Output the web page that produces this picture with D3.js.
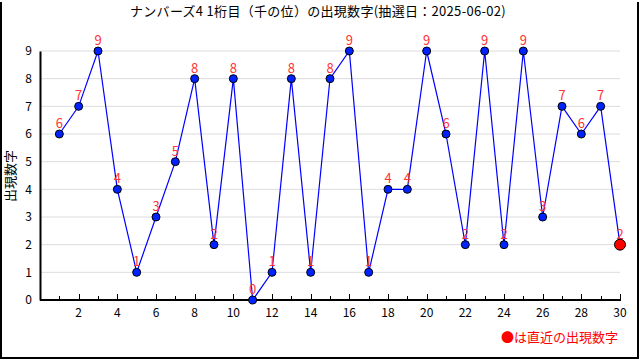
<!DOCTYPE html>
<html>
<head>
<meta charset="utf-8">
<script src="https://cdn.jsdelivr.net/npm/d3@7"></script>
<style>
  body { margin: 0; background: #fff; }
  svg { display: block; }
</style>
</head>
<body>
<div id="chart"></div>
<script>
// draw numbers per draw index (1..30)
const drawIndex = d3.range(1, 31)
const digits = [6, 7, 9, 4, 1, 3, 5, 8, 2, 8, 0, 1, 8, 1, 8, 9, 1, 4, 4, 9, 6, 2, 9, 2, 9, 3, 7, 6, 7, 2]
const yTicks = [0, 1, 2, 3, 4, 5, 6, 7, 8, 9]
const xLabelTicks = [2, 4, 6, 8, 10, 12, 14, 16, 18, 20, 22, 24, 26, 28, 30]
const titleText = "ナンバーズ4 1桁目（千の位）の出現数字(抽選日：2025-06-02)"
const yTitle = "出現数字"
const legendText = "●は直近の出現数字"

const width = 640, height = 360
const fontFam = "'Noto Sans CJK JP', 'DejaVu Sans', sans-serif"
const colors = {
  line: '#0000ff',
  point: '#0022ff',
  label: '#ff3333',
  latest: '#ff0000',
  grid: '#dcdcdc'
}

const svg = d3.select("#chart").append("svg")
  .attr("width", width)
  .attr("height", height)

// outer frame (left, right, bottom)
svg.append("path")
  .attr("d", "M1,2 V358 H638 V2")
  .attr("fill", "none")
  .attr("stroke", "#000")
  .attr("stroke-width", 2)

const x = d3.scaleLinear().domain([0, 30]).range([40, 620])
const y = d3.scaleLinear().domain([0, 9]).range([300, 51])

// grid lines
svg.append("g").selectAll("line")
  .data(yTicks.filter(d => d > 0))
  .join("line")
  .attr("x1", x(0)).attr("x2", x(30))
  .attr("y1", d => y(d)).attr("y2", d => y(d))
  .attr("stroke", colors.grid)
  .attr("stroke-width", 1)

// y axis
const yAxis = d3.axisLeft(y).tickValues(yTicks).tickSize(0).tickPadding(8)
const gy = svg.append("g").attr("transform", "translate(" + x(0) + ",0)").call(yAxis)
gy.select(".domain").attr("stroke", "#000").attr("stroke-width", 2)
gy.selectAll("text").attr("font-family", fontFam).attr("font-size", 12).attr("fill", "#000")

// x axis: minor ticks on odd, major + label on even, pointing up
const gx = svg.append("g").attr("transform", "translate(0," + y(0) + ")")
gx.append("line")
  .attr("x1", x(0)).attr("x2", x(30) + 1)
  .attr("stroke", "#000").attr("stroke-width", 2)
gx.selectAll("line.tick")
  .data(drawIndex)
  .join("line")
  .attr("class", "tick")
  .attr("x1", d => Math.round(x(d)) + 0.5).attr("x2", d => Math.round(x(d)) + 0.5)
  .attr("y1", 0).attr("y2", d => d % 2 === 0 ? -6 : -4)
  .attr("stroke", "#000").attr("stroke-width", 1)
gx.selectAll("text")
  .data(xLabelTicks)
  .join("text")
  .attr("x", d => x(d))
  .attr("y", 17)
  .attr("text-anchor", "middle")
  .attr("font-family", fontFam)
  .attr("font-size", 12)
  .text(d => d)

// line
const line = d3.line()
  .x((d, i) => x(drawIndex[i]))
  .y(d => y(d))
svg.append("path")
  .datum(digits)
  .attr("d", line)
  .attr("fill", "none")
  .attr("stroke", colors.line)
  .attr("stroke-width", 1.2)

// value labels
svg.append("g").selectAll("text")
  .data(digits)
  .join("text")
  .attr("x", (d, i) => x(drawIndex[i]))
  .attr("y", d => y(d) - 6)
  .attr("text-anchor", "middle")
  .attr("font-family", fontFam)
  .attr("font-size", 13)
  .attr("fill", colors.label)
  .text(d => d)

// points
const last = digits.length - 1
svg.append("g").selectAll("circle")
  .data(digits)
  .join("circle")
  .attr("cx", (d, i) => x(drawIndex[i]))
  .attr("cy", d => y(d))
  .attr("r", (d, i) => i === last ? 5.5 : 4)
  .attr("fill", (d, i) => i === last ? colors.latest : colors.point)
  .attr("stroke", "#000")
  .attr("stroke-width", 1)

// title
svg.append("text")
  .attr("x", 318).attr("y", 16)
  .attr("text-anchor", "middle")
  .attr("font-family", fontFam)
  .attr("font-size", 13)
  .attr("letter-spacing", 0.3)
  .text(titleText)

// y title
svg.append("text")
  .attr("transform", "translate(15,176) rotate(-90)")
  .attr("text-anchor", "middle")
  .attr("font-family", fontFam)
  .attr("font-size", 13)
  .text(yTitle)

// legend
svg.append("text")
  .attr("x", 618).attr("y", 342)
  .attr("text-anchor", "end")
  .attr("font-family", fontFam)
  .attr("font-size", 13)
  .attr("fill", colors.latest)
  .text(legendText)
</script>
</body>
</html>
